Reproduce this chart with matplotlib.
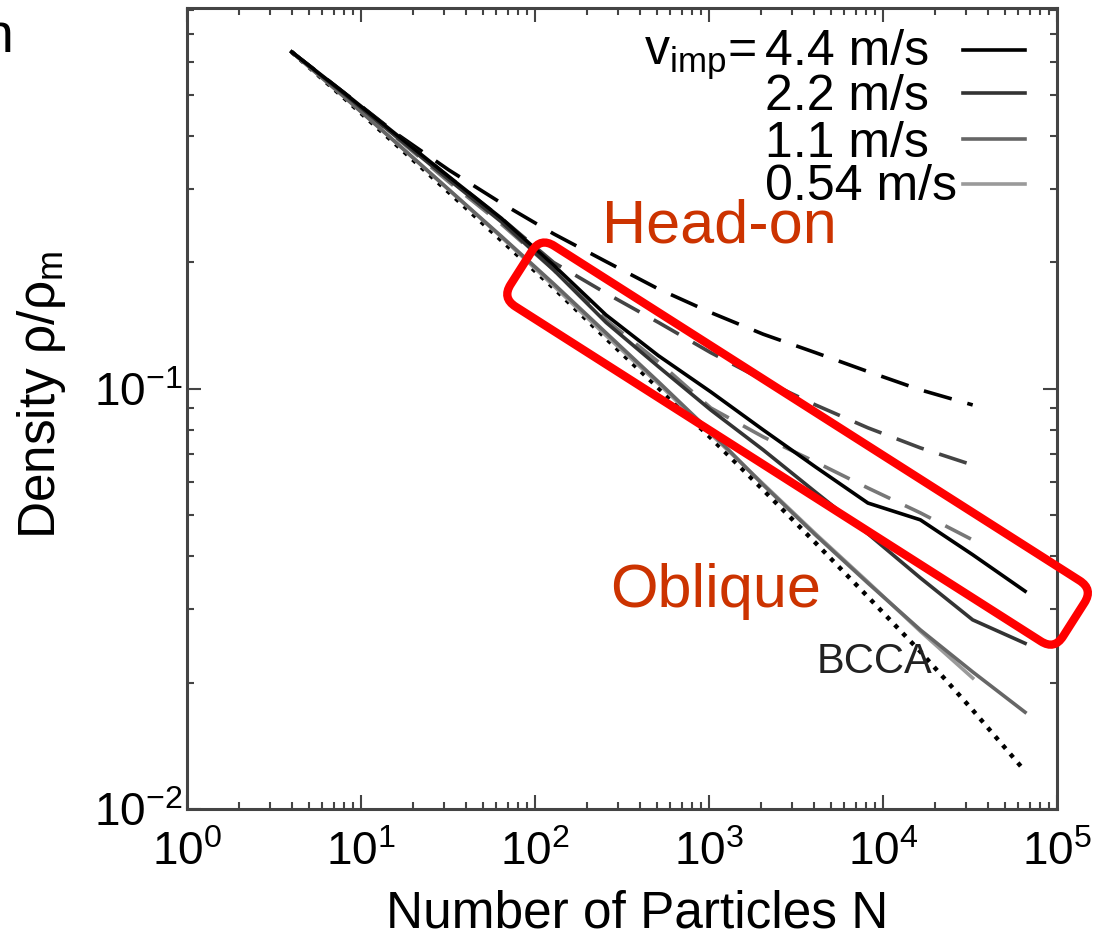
import numpy as np
import matplotlib
matplotlib.use('Agg')
import matplotlib.pyplot as plt
from matplotlib.patches import FancyBboxPatch
from matplotlib.lines import Line2D
from matplotlib.transforms import Affine2D
from matplotlib.ticker import LogLocator, NullFormatter

# -------------------------------------------------------------------------------------------------- #

# Number of particles in the aggregate (powers of two)
N = [4, 8, 16, 32, 64, 128, 256, 512, 1024, 2048, 4096, 8192, 16384, 32768, 65536]

# Oblique collisions (solid lines), density rho/rho_m
oblique_44 = [0.634, 0.507, 0.403, 0.320, 0.255, 0.197, 0.150, 0.120, 0.0984, 0.0799, 0.0652, 0.0535, 0.0488, 0.0403, 0.0330]
oblique_22 = [0.634, 0.504, 0.398, 0.315, 0.250, 0.192, 0.144, 0.113, 0.0891, 0.0716, 0.0568, 0.0452, 0.0355, 0.0282, 0.0248]
oblique_11 = [0.634, 0.496, 0.385, 0.298, 0.231, 0.178, 0.136, 0.104, 0.0790, 0.0591, 0.0449, 0.0345, 0.0267, 0.0212, 0.0170]
oblique_054 = [0.634, 0.496, 0.385, 0.298, 0.230, 0.176, 0.134, 0.103, 0.0781, 0.0594, 0.0452, 0.0347, 0.0265, 0.0205]

# Head-on collisions (dashed lines)
headon_44 = [0.634, 0.507, 0.405, 0.332, 0.277, 0.234, 0.201, 0.173, 0.152, 0.135, 0.122, 0.110, 0.0995, 0.0916]
headon_22 = [0.634, 0.507, 0.403, 0.320, 0.255, 0.200, 0.169, 0.144, 0.122, 0.105, 0.0916, 0.0808, 0.0724, 0.0659]
headon_11 = [0.634, 0.501, 0.396, 0.311, 0.247, 0.192, 0.146, 0.116, 0.0901, 0.0769, 0.0670, 0.0581, 0.0507, 0.0437]

# BCCA reference (dotted)
bcca = [0.634, 0.493, 0.381, 0.294, 0.226, 0.174, 0.132, 0.1005, 0.0765, 0.0575, 0.0430, 0.0320, 0.0237, 0.0172, 0.0123]

legend_labels = ['4.4 m/s', '2.2 m/s', '1.1 m/s', '0.54 m/s']
line_colors = ['#000000', '#333333', '#666666', '#9a9a9a']
dash_colors = ['#000000', '#444444', '#777777']

# -------------------------------------------------------------------------------------------------- #

plt.rcParams['font.family'] = ['Liberation Sans', 'DejaVu Sans']
plt.rcParams['mathtext.fontset'] = 'custom'
plt.rcParams['mathtext.rm'] = 'Liberation Sans'
plt.rcParams['mathtext.it'] = 'Liberation Sans:italic'
plt.rcParams['mathtext.bf'] = 'Liberation Sans:bold'
plt.rcParams['mathtext.sf'] = 'Liberation Sans'
plt.rcParams['mathtext.default'] = 'regular'

W, H = 1114, 939
fig = plt.figure(figsize=(W / 100, H / 100), dpi=100)

def px(x, y):
    # pixel position in the picture -> figure fraction
    return x / W, 1 - y / H

ax = fig.add_axes([187 / W, 1 - 809 / H, 870 / W, 801 / H])

ax.plot(N[:len(headon_44)], headon_44, color=dash_colors[0], lw=2.6, ls=(0, (8, 4.5)))
ax.plot(N[:len(headon_22)], headon_22, color=dash_colors[1], lw=2.6, ls=(0, (8, 4.5)))
ax.plot(N[:len(headon_11)], headon_11, color=dash_colors[2], lw=2.6, ls=(0, (8, 4.5)))
ax.plot(N, bcca, color='#000000', lw=3.2, ls=(0, (1, 1.6)))
ax.plot(N[:len(oblique_054)], oblique_054, color=line_colors[3], lw=2.6)
ax.plot(N, oblique_11, color=line_colors[2], lw=2.6)
ax.plot(N, oblique_22, color=line_colors[1], lw=2.6)
ax.plot(N, oblique_44, color=line_colors[0], lw=2.6)

ax.set_xscale('log')
ax.set_yscale('log')
ax.set_xlim(1, 1e5)
ax.set_ylim(0.01, 0.807)
ax.xaxis.set_major_locator(LogLocator(base=10, numticks=12))
ax.xaxis.set_minor_locator(LogLocator(base=10, subs=np.arange(2, 10), numticks=60))
ax.xaxis.set_minor_formatter(NullFormatter())

for s in ax.spines.values():
    s.set_color('#444444')
    s.set_linewidth(2.2)
ax.tick_params(which='both', direction='in', top=True, right=True, color='#444444', width=1.5)
ax.tick_params(which='major', length=10, labelsize=33)
ax.tick_params(which='minor', length=5)
ax.tick_params(axis='x', pad=16)
ax.tick_params(axis='y', pad=3)

fig.text(*px(637, 928), 'Number of Particles N', fontsize=37, ha='center', va='baseline')
fig.text(*px(42, 395), 'Density ρ/ρ$_{\\rm m}$', fontsize=37, rotation=90,
         ha='center', va='center', rotation_mode='anchor')

# legend drawn by hand (text column, then line sample)
text_base = [65, 110, 157, 200]
line_y = [50, 93, 139, 184]
for lab, col, tb, ly in zip(legend_labels, line_colors, text_base, line_y):
    fig.text(*px(765, tb), lab, fontsize=36, ha='left', va='baseline')
    fig.add_artist(Line2D([963 / W, 1025 / W], [1 - ly / H, 1 - ly / H], color=col, lw=2.6,
                          transform=fig.transFigure))
fig.text(*px(756, 65), 'v$_{\\rm imp}$=', fontsize=36, ha='right', va='baseline')

fig.text(*px(817, 673), 'BCCA', fontsize=30, color='#222222', va='baseline')

# red annotations
fig.text(*px(602, 243), 'Head-on', fontsize=44, color='#cc3300', va='baseline')
fig.text(*px(610, 607), 'Oblique', fontsize=44, color='#cc3300', va='baseline')

box_tr = Affine2D().rotate_deg(-32.5).translate(502, H - 298).scale(1 / 100.) + fig.dpi_scale_trans
box = FancyBboxPatch((0, 0), 655, 72, boxstyle='round,pad=0,rounding_size=16',
                     fill=False, ec='#ff0000', lw=6, transform=box_tr)
fig.add_artist(box)

# cut-off letter at the top-left edge
fig.text(*px(13, 52), 'n', fontsize=40, ha='right', va='baseline')

fig.savefig('out.png', dpi=100)
